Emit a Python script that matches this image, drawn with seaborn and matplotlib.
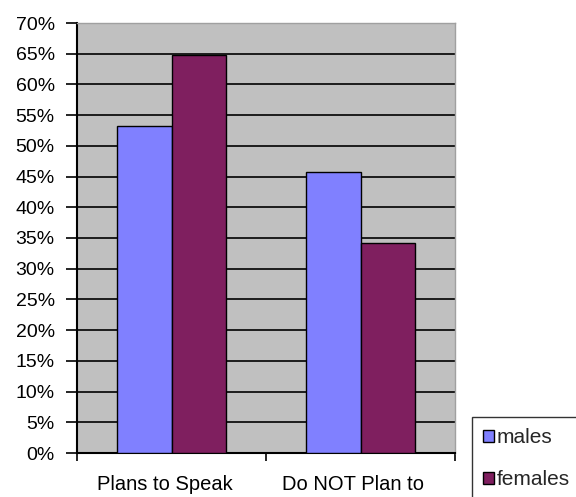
import matplotlib
matplotlib.use("Agg")
import matplotlib.pyplot as plt
import seaborn as sns
import pandas as pd
from matplotlib.patches import Patch
from matplotlib.ticker import FixedLocator
from matplotlib.transforms import ScaledTranslation

categories = ["Plans to Speak", "Do NOT Plan to"]
series = ["males", "females"]
males = [53.3, 45.8]
females = [64.8, 34.2]
yticks = list(range(0, 75, 5))
colors = {"males": "#8080FF", "females": "#7F1F5F"}

df = pd.DataFrame({
    "category": categories * 2,
    "group": ["males"] * len(categories) + ["females"] * len(categories),
    "value": males + females,
})

sns.set_theme(style="white")
plt.rcParams["font.family"] = ["Liberation Sans", "DejaVu Sans"]

fig = plt.figure(figsize=(5.76, 4.97), dpi=100)
ax = fig.add_axes([77/576, 1-453/497, 378/576, 430/497])
ax.set_facecolor("#C0C0C0")

sns.barplot(data=df, x="category", y="value", hue="group", order=categories,
            hue_order=series, palette=colors, width=0.575, saturation=1,
            edgecolor="black", linewidth=1, ax=ax, legend=False, zorder=3)

ax.set_xlim(-0.5, 1.5)
ax.set_ylim(0, 70)
ax.set_yticks(yticks)
ax.set_yticklabels([f"{t}%" for t in yticks], fontsize=14, color="black")
ax.yaxis.grid(True, color="black", linewidth=1.2, zorder=1)
ax.set_axisbelow(True)
ax.tick_params(axis="y", which="major", direction="out", length=8, width=1.2,
               color="black", left=True, pad=8)
ax.set_xticks(range(len(categories)))
ax.set_xticklabels(categories, fontsize=14.5, color="black")
ax.tick_params(axis="x", which="major", length=0, pad=16)
ax.xaxis.set_minor_locator(FixedLocator([-0.5, 0.5, 1.5]))
ax.tick_params(axis="x", which="minor", direction="out", length=6, width=1.2,
               color="black", bottom=True)
shift = ScaledTranslation(-7/100, 0, fig.dpi_scale_trans)
for lbl in ax.get_xticklabels():
    lbl.set_transform(lbl.get_transform() + shift)
ax.set_xlabel("")
ax.set_ylabel("")

for s in ["left", "bottom"]:
    ax.spines[s].set_color("black")
    ax.spines[s].set_linewidth(1.5)
for s in ["top", "right"]:
    ax.spines[s].set_color("#A0A0A0")
    ax.spines[s].set_linewidth(1)

handles = [Patch(facecolor=colors[s], edgecolor="black", label=s) for s in series]
leg = fig.legend(handles=handles, loc="upper left",
                 bbox_to_anchor=(472/576, 1-417/497), borderaxespad=0,
                 frameon=True, fontsize=15, handlelength=0.5,
                 handleheight=0.5, handletextpad=0.15, labelspacing=1.1,
                 borderpad=0.55, fancybox=False, edgecolor="black")
leg.get_frame().set_linewidth(1)

fig.savefig("out.png", dpi=100)
